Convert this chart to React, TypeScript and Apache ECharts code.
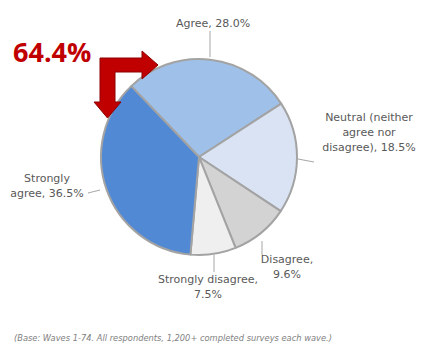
import React, { useEffect, useRef } from "react";
import * as echarts from "echarts";

const categories = ["Agree", "Neutral (neither agree nor disagree)", "Disagree", "Strongly disagree", "Strongly agree"];
const values = [28.0, 18.5, 9.6, 7.5, 36.5];
const labelTemplates = ["Agree, {v}", "Neutral (neither\nagree nor\ndisagree), {v}", "Disagree,\n{v}", "Strongly disagree,\n{v}", "Strongly\nagree, {v}"];
const sliceColors = ["#9fc1e9", "#d9e3f4", "#d3d3d3", "#efefef", "#5289d5"];
const highlightText = "64.4%";
const footnote = "(Base: Waves 1-74. All respondents, 1,200+ completed surveys each wave.)";

export default function App() {
  const ref = useRef<HTMLDivElement>(null);
  useEffect(() => {
    const chart = echarts.init(ref.current!, null, { renderer: "svg" });
    const labelPos = [
      { x: 213, y: 23, line: [[210, 57], [210, 31]] },
      { x: 369, y: 132, line: [[298, 159], [314, 162]] },
      { x: 287, y: 267, line: [[262, 241], [262, 255]] },
      { x: 208, y: 286.5, line: [[214, 255], [214, 272]] },
      { x: 47, y: 185.5, line: [[100, 190], [88, 193]] },
    ];
    chart.setOption({
      animation: false,
      backgroundColor: "#ffffff",
      title: {
        text: footnote,
        left: 14,
        top: 334,
        padding: 0,
        textStyle: { fontFamily: "DejaVu Sans", fontStyle: "italic", fontWeight: "normal", fontSize: 8.3, color: "#7f7f7f" },
      },
      graphic: [
        {
          type: "polygon",
          z: 10,
          shape: {
            points: [
              [100, 58], [142, 58], [142, 51], [158, 65], [142, 79], [142, 72], [115, 72], [115, 102],
              [121, 102], [107.5, 118], [94, 102], [100, 102],
            ],
          },
          style: { fill: "#c00000", stroke: "#8e0000", lineWidth: 1 },
        },
        {
          type: "text",
          left: 13,
          top: 38,
          style: { text: highlightText, fill: "#c00000", font: "bold 27px 'Open Sans'" },
        },
      ],
      series: [
        {
          type: "pie",
          center: [199, 157],
          radius: 98,
          startAngle: 133.7,
          clockwise: true,
          silent: true,
          emphasis: { disabled: true },
          data: categories.map((n, i) => ({ name: n, value: values[i], itemStyle: { color: sliceColors[i] } })),
          itemStyle: { borderColor: "#a3a3a3", borderWidth: 2 },
          label: {
            show: true,
            formatter: (p: any) => labelTemplates[p.dataIndex].replace("{v}", p.value.toFixed(1) + "%"),
            color: "#595959",
            fontFamily: "DejaVu Sans",
            fontSize: 11,
            lineHeight: 15,
            align: "center",
          },
          labelLine: { show: true, length: 6, length2: 0, lineStyle: { color: "#a6a6a6", width: 1 } },
          labelLayout: (p: any) => ({
            x: labelPos[p.dataIndex].x,
            y: labelPos[p.dataIndex].y,
            align: "center",
            verticalAlign: "middle",
            labelLinePoints: labelPos[p.dataIndex].line,
          }),
        },
      ],
    });
    return () => chart.dispose();
  }, []);
  return <div ref={ref} style={{ position: "fixed", left: 0, top: 0, width: 428, height: 353, background: "#fff" }} />;
}
